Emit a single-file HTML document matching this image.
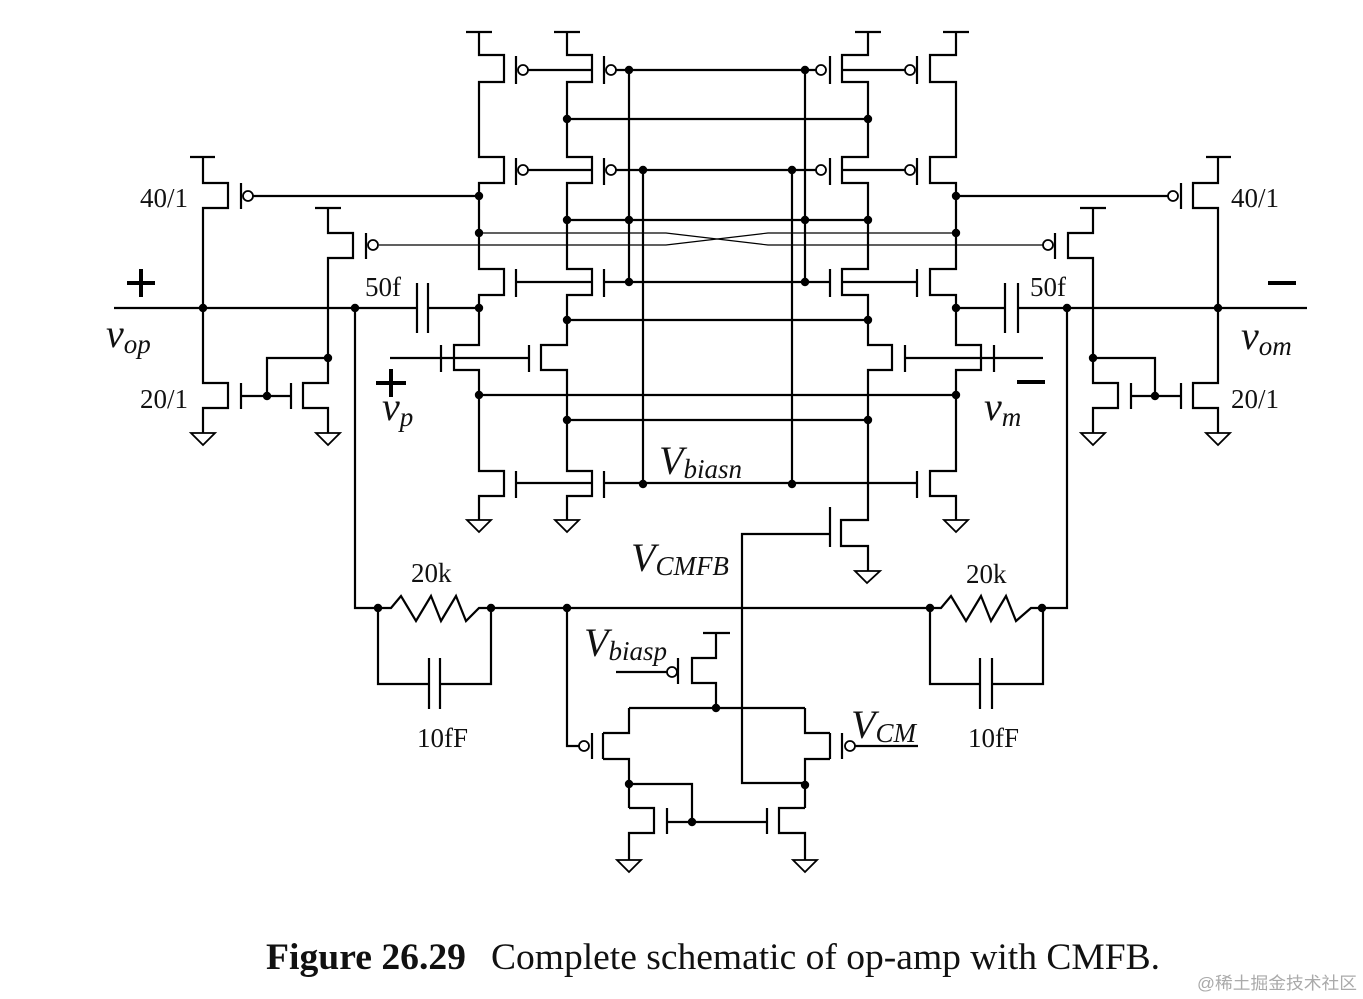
<!DOCTYPE html>
<html><head><meta charset="utf-8"><style>
html,body{margin:0;padding:0;background:#fff;}
svg{display:block;}
text{font-family:"Liberation Serif",serif;fill:#111;}
.it{font-style:italic;}
</style></head><body>
<svg width="1363" height="999" viewBox="0 0 1363 999" xmlns="http://www.w3.org/2000/svg">
<g fill="none" stroke="#000" stroke-width="2.2" stroke-linejoin="miter">
<path d="M466 32H492M554 32H580M855 32H881M943 32H969"/>
<path d="M479 32V55H504V82H479V157H504V183H479V269H504V295H479V345H454V370H479V471H504V496H479V520"/>
<path d="M567 32V55H592V82H567V157H592V183H567V269H592V295H567V345H541V370H567V471H592V496H567V520"/>
<path d="M868 32V55H842V82H868V157H842V183H868V269H842V295H868V345H892V370H868V520H841V546H868V571"/>
<path d="M956 32V55H930V82H956V157H930V183H956V269H930V295H956V345H981V370H956V471H930V496H956V520"/>
<path d="M516 56V84M604 56V84M830 56V84M917 56V84"/>
<path d="M516 158V185M604 158V185M830 158V185M917 158V185"/>
<path d="M516 269V297M604 269V297M830 269V297M917 269V297"/>
<path d="M441 345V372M529 345V372M905 345V372M994 345V372"/>
<path d="M516 471V498M604 471V498M917 471V498M830 507V547"/>
<path d="M528 70H592M616 70H816M842 70H905"/>
<path d="M528 170H592M616 170H816M842 170H905"/>
<path d="M516 282H592M604 282H830M842 282H917"/>
<path d="M516 483H592M604 483H917"/>
<path d="M390 358H529M905 358H1043"/>
<path d="M830 534H742V783H805"/>
<path d="M629 70V282M805 70V282M643 170V483M792 170V483"/>
<path d="M567 119H868M567 220H868M567 320H868M479 395H956M567 420H868"/>
<path d="M253 196H479M956 196H1168"/>
<path d="M114 308H417M428 308H479M956 308H1005M1018 308H1307"/>
<path d="M417 283V333M428 283V333M1005 283V333M1018 283V333"/>
<path d="M190 157H215M203 157V183H228V208H203V383H228V408H203V433"/>
<path d="M241 183V209M241 383V409M241 396H291M291 383V409M267 396V358H328"/>
<path d="M315 208H341M328 208V233H353V258H328V383H303V408H328V433"/>
<path d="M366 233V259"/>
<path d="M1206 157H1231M1218 157V183H1193V208H1218V383H1193V408H1218V433"/>
<path d="M1181 183V209M1181 383V409M1181 396H1131M1131 383V409M1155 396V358H1093"/>
<path d="M1080 208H1106M1093 208V233H1068V258H1093V383H1118V408H1093V433"/>
<path d="M1055 233V259"/>
<path d="M355 308V608H378M1067 308V608H1042"/>
<path d="M378 608H391L401 596L416 621L431 596L441 621L456 596L466 621L479 608H491"/>
<path d="M930 608H941L951 596L966 621L981 596L991 621L1006 596L1016 621L1031 608H1042"/>
<path d="M491 608H930"/>
<path d="M378 608V684H429M440 684H491V608M429 658V709M440 658V709"/>
<path d="M930 608V684H980M992 684H1043V608M980 658V709M992 658V709"/>
<path d="M567 608V746H579"/>
<path d="M592 733V759M603 733V759M842 733V759M830 733V759"/>
<path d="M629 708H805M629 708V733H603M603 759H629V808M805 708V733H830M830 759H805V808"/>
<path d="M855 746H918"/>
<path d="M703 633H730M716 633V658H692V683H716V708M678 658V684M616 672H667"/>
<path d="M629 784H692V822M629 808H654V833H629V860M805 808H779V833H805V860M667 808V834M767 808V834M667 822H767"/>
</g>
<g fill="none" stroke="#000" stroke-width="1.2">
<path d="M479 233H666L768 245H1043"/>
<path d="M379 245H666L768 233H956"/>
</g>
<g fill="#fff" stroke="#000" stroke-width="1.8">
<path d="M191 433H215L203 445Z"/><path d="M316 433H340L328 445Z"/>
<path d="M1206 433H1230L1218 445Z"/><path d="M1081 433H1105L1093 445Z"/>
<path d="M467 520H491L479 532Z"/><path d="M555 520H579L567 532Z"/>
<path d="M944 520H968L956 532Z"/><path d="M855 571H880L867 583Z"/>
<path d="M617 860H641L629 872Z"/><path d="M793 860H817L805 872Z"/>
</g>
<g fill="#fff" stroke="#000" stroke-width="1.8">
<circle cx="523" cy="70" r="5"/><circle cx="611" cy="70" r="5"/><circle cx="821" cy="70" r="5"/><circle cx="910" cy="70" r="5"/>
<circle cx="523" cy="170" r="5"/><circle cx="611" cy="170" r="5"/><circle cx="821" cy="170" r="5"/><circle cx="910" cy="170" r="5"/>
<circle cx="248" cy="196" r="5"/><circle cx="373" cy="245" r="5"/>
<circle cx="1173" cy="196" r="5"/><circle cx="1048" cy="245" r="5"/>
<circle cx="584" cy="746" r="5"/><circle cx="850" cy="746" r="5"/><circle cx="672" cy="672" r="5"/>
</g>
<g fill="#000">
<circle cx="629" cy="70" r="4.2"/><circle cx="805" cy="70" r="4.2"/>
<circle cx="567" cy="119" r="4.2"/><circle cx="868" cy="119" r="4.2"/>
<circle cx="643" cy="170" r="4.2"/><circle cx="792" cy="170" r="4.2"/>
<circle cx="479" cy="196" r="4.2"/><circle cx="956" cy="196" r="4.2"/>
<circle cx="567" cy="220" r="4.2"/><circle cx="629" cy="220" r="4.2"/><circle cx="805" cy="220" r="4.2"/><circle cx="868" cy="220" r="4.2"/>
<circle cx="479" cy="233" r="4.2"/><circle cx="956" cy="233" r="4.2"/>
<circle cx="629" cy="282" r="4.2"/><circle cx="805" cy="282" r="4.2"/>
<circle cx="479" cy="308" r="4.2"/><circle cx="956" cy="308" r="4.2"/>
<circle cx="203" cy="308" r="4.2"/><circle cx="355" cy="308" r="4.2"/>
<circle cx="1218" cy="308" r="4.2"/><circle cx="1067" cy="308" r="4.2"/>
<circle cx="567" cy="320" r="4.2"/><circle cx="868" cy="320" r="4.2"/>
<circle cx="328" cy="358" r="4.2"/><circle cx="1093" cy="358" r="4.2"/>
<circle cx="267" cy="396" r="4.2"/><circle cx="1155" cy="396" r="4.2"/>
<circle cx="479" cy="395" r="4.2"/><circle cx="956" cy="395" r="4.2"/>
<circle cx="567" cy="420" r="4.2"/><circle cx="868" cy="420" r="4.2"/>
<circle cx="643" cy="484" r="4.2"/><circle cx="792" cy="484" r="4.2"/>
<circle cx="378" cy="608" r="4.2"/><circle cx="491" cy="608" r="4.2"/><circle cx="567" cy="608" r="4.2"/>
<circle cx="930" cy="608" r="4.2"/><circle cx="1042" cy="608" r="4.2"/>
<circle cx="716" cy="708" r="4.2"/><circle cx="629" cy="784" r="4.2"/><circle cx="805" cy="785" r="4.2"/><circle cx="692" cy="822" r="4.2"/>
</g>
<g stroke="#000" stroke-width="4" fill="none">
<path d="M127 283H155M141 269V297"/>
<path d="M376 383H406M391 369V397"/>
<path d="M1268 283H1296"/>
<path d="M1017 382H1045"/>
</g>
<text x="140" y="207" font-size="27">40/1</text>
<text x="140" y="408" font-size="27">20/1</text>
<text x="1231" y="207" font-size="27">40/1</text>
<text x="1231" y="408" font-size="27">20/1</text>
<text x="365" y="296" font-size="27">50f</text>
<text x="1030" y="296" font-size="27">50f</text>
<text x="411" y="582" font-size="27">20k</text>
<text x="966" y="583" font-size="27">20k</text>
<text x="417" y="747" font-size="27">10fF</text>
<text x="968" y="747" font-size="27">10fF</text>
<text class="it" x="106" y="347" font-size="40">v<tspan font-size="27" dy="6">op</tspan></text>
<text class="it" x="1241" y="349" font-size="40">v<tspan font-size="27" dy="6">om</tspan></text>
<text class="it" x="382" y="420" font-size="40">v<tspan font-size="27" dy="6">p</tspan></text>
<text class="it" x="984" y="420" font-size="40">v<tspan font-size="27" dy="6">m</tspan></text>
<text class="it" x="659" y="474" font-size="40">V<tspan font-size="27" dy="4">biasn</tspan></text>
<text class="it" x="631" y="571" font-size="40">V<tspan font-size="27" dy="4">CMFB</tspan></text>
<text class="it" x="584" y="656" font-size="40">V<tspan font-size="27" dy="4">biasp</tspan></text>
<text class="it" x="851" y="738" font-size="40">V<tspan font-size="27" dy="4">CM</tspan></text>
<text x="266" y="969" font-size="37" font-weight="bold" textLength="200" lengthAdjust="spacingAndGlyphs">Figure 26.29</text>
<text x="491" y="969" font-size="37" textLength="669" lengthAdjust="spacingAndGlyphs">Complete schematic of op-amp with CMFB.</text>
<text x="1197" y="989" font-size="17" textLength="160" lengthAdjust="spacingAndGlyphs" style="fill:#aaa;font-family:'Liberation Sans','Noto Sans CJK SC',sans-serif">@稀土掘金技术社区</text>
</svg>
</body></html>
